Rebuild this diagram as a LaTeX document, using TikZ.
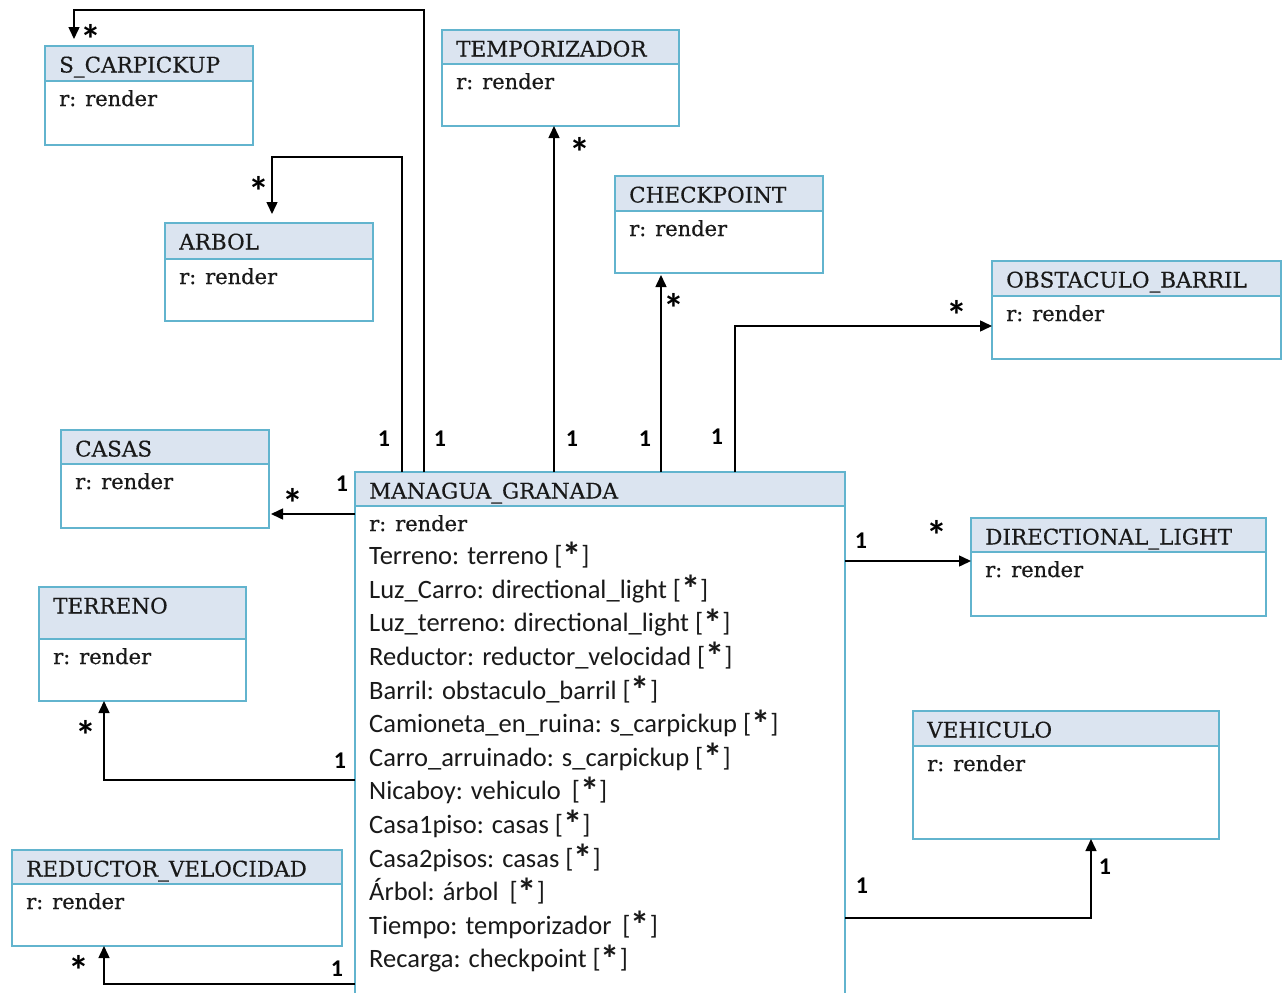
\documentclass[tikz,border=0pt]{standalone}
\usepackage{fontspec}
\usepackage{graphicx}
\usetikzlibrary{arrows.meta,calc}
\newfontfamily\hdfont[FakeBold=0.4]{DejaVu Serif}
\newfontfamily\atfont{Carlito}
\definecolor{boxblue}{RGB}{98,180,206}
\definecolor{headfill}{RGB}{219,228,240}
\definecolor{ink}{RGB}{25,25,25}

% enlarged asterisks; the multiplicity star is centred on its baseline
\newcommand{\fieldstar}{\smash{\raisebox{-4.5pt}{\scalebox{1.45}{\bfseries *}}}}
\newcommand{\multstar}{\smash{\raisebox{-22pt}{\scalebox{1.75}{*}}}}

\tikzset{
  classbox/.style={draw=boxblue, line width=1.8pt, fill=white, anchor=north west, inner sep=0pt, outer sep=0pt},
  headbox/.style={classbox, fill=headfill},
  titletext/.style={anchor=base west, inner sep=0pt, font=\hdfont\fontsize{21.5pt}{24pt}\selectfont, text=ink},
  attrtext/.style={anchor=base west, inner sep=0pt, font=\hdfont\fontsize{21pt}{24pt}\selectfont, text=ink},
  fieldtext/.style={anchor=base west, inner sep=0pt, font=\atfont\fontsize{26.5pt}{30pt}\selectfont, text=ink},
  mult/.style={anchor=base, inner sep=0pt, font=\atfont\bfseries\fontsize{24pt}{26pt}\selectfont, text=black},
  starlbl/.style={mult, anchor=center, text height=6pt, text depth=6pt},
  assoc/.style={draw=black, line width=1.5pt, -{Triangle[length=12pt,width=11pt]}},
}

% name, left x, top y, width, height, header height, title
\newcommand{\umlclass}[7]{%
  \node[classbox, minimum width=#4pt, minimum height=#5pt] (#1) at (#2,-#3) {};
  \node[headbox, minimum width=#4pt, minimum height=#6pt] (#1-head) at (#1.north west) {};
  \node[titletext] (#1-title) at ($(#1.north west)+(14,-26.5)$) {#7};
  \node[attrtext] (#1-attr) at ($(#1-head.south west)+(14,-25)$) {r: render};
}

\begin{document}
\begin{tikzpicture}[x=1pt, y=1pt]
\useasboundingbox (0,0) rectangle (1283,-993);
\clip (0,0) rectangle (1283,-993);

% classes
\umlclass{scar}{45}{46}{208}{99}{35}{S\_CARPICKUP}
\umlclass{temp}{442}{30}{237}{96}{34}{TEMPORIZADOR}
\umlclass{arbol}{165}{223}{208}{98}{36}{ARBOL}
\umlclass{check}{615}{176}{208}{97}{35}{CHECKPOINT}
\umlclass{obst}{992}{261}{289}{98}{35}{OBSTACULO\_BARRIL}
\umlclass{casas}{61}{430}{208}{98}{34}{CASAS}
\umlclass{dl}{971}{518}{295}{98}{34}{DIRECTIONAL\_LIGHT}
\umlclass{terreno}{39}{587}{207}{114}{52}{TERRENO}
\umlclass{vehic}{913}{711}{306}{128}{35}{VEHICULO}
\umlclass{red}{12}{850}{330}{96}{34}{REDUCTOR\_VELOCIDAD}
\umlclass{mg}{355}{472}{490}{540}{34}{MANAGUA\_GRANADA}

% fields of the main class
\foreach \txt [count=\i] in {
  {Terreno: terreno [\fieldstar]},
  {Luz\_Carro: directional\_light [\fieldstar]},
  {Luz\_terreno: directional\_light [\fieldstar]},
  {Reductor: reductor\_velocidad [\fieldstar]},
  {Barril: obstaculo\_barril [\fieldstar]},
  {Camioneta\_en\_ruina: s\_carpickup [\fieldstar]},
  {Carro\_arruinado: s\_carpickup [\fieldstar]},
  {Nicaboy: vehiculo\hspace{5pt} [\fieldstar]},
  {Casa1piso: casas [\fieldstar]},
  {Casa2pisos: casas [\fieldstar]},
  {Árbol: árbol\hspace{5pt} [\fieldstar]},
  {Tiempo: temporizador\hspace{5pt} [\fieldstar]},
  {Recarga: checkpoint [\fieldstar]}}
  \node[fieldtext] (mg-f\i) at ($(mg-attr.base west)+(0,-33.6*\i)$) {\txt};

% associations
\draw[assoc, shorten >=7pt] ($(mg.north west)+(69,0)$) |- ($(scar.north west)+(29,36)$) -- ($(scar.north west)+(29,0)$);
\draw[assoc, shorten >=9pt] ($(mg.north west)+(47,0)$) |- ($(arbol.north west)+(107,66)$) -- ($(arbol.north west)+(107,0)$);
\draw[assoc] ($(mg.north west)+(199,0)$) -- ($(temp.south west)+(112,0)$);
\draw[assoc, shorten >=2pt] ($(mg.north west)+(306,0)$) -- ($(check.south west)+(46,0)$);
\draw[assoc] ($(mg.north west)+(380,0)$) |- ($(obst.north west)+(0,-65)$);
\draw[assoc, shorten >=2pt] ($(mg.north west)+(0,-42)$) -- ($(casas.north east)+(0,-84)$);
\draw[assoc] ($(mg.north east)+(0,-89)$) -- ($(dl.north west)+(0,-43)$);
\draw[assoc] ($(mg.north west)+(0,-308)$) -| ($(terreno.south west)+(65,0)$);
\draw[assoc] ($(mg.north east)+(0,-446)$) -| ($(vehic.south west)+(178,0)$);
\draw[assoc] ($(mg.north west)+(0,-512)$) -| ($(red.south west)+(92,0)$);

% multiplicities
\node[mult] (m-arbol) at (384,-446) {1};
\node[mult] (m-scar) at (440,-446) {1};
\node[mult] (m-temp) at (572,-446) {1};
\node[mult] (m-check) at (645,-446) {1};
\node[mult] (m-obst) at (717,-444) {1};
\node[mult] (m-casas) at (342,-491) {1};
\node[mult] (m-terreno) at (340,-768) {1};
\node[mult] (m-dl) at (861,-548) {1};
\node[mult] (m-vehic) at (862,-893) {1};
\node[mult] (m-vehic2) at (1105,-874) {1};
\node[mult] (m-red) at (337,-976) {1};

\node[starlbl] (s-scar) at (91,-32) {\multstar};
\node[starlbl] (s-arbol) at (259,-184) {\multstar};
\node[starlbl] (s-temp) at (580,-145) {\multstar};
\node[starlbl] (s-check) at (674,-301) {\multstar};
\node[starlbl] (s-obst) at (957,-308) {\multstar};
\node[starlbl] (s-casas) at (293,-496) {\multstar};
\node[starlbl] (s-terreno) at (86,-728) {\multstar};
\node[starlbl] (s-dl) at (937,-528) {\multstar};
\node[starlbl] (s-red) at (79,-963) {\multstar};
\end{tikzpicture}
\end{document}
